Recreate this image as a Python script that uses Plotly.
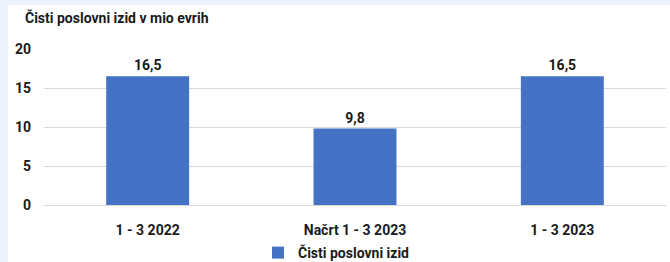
import plotly.graph_objects as go

categories = ["1 - 3 2022", "Načrt 1 - 3 2023", "1 - 3 2023"]
values = [16.5, 9.8, 16.5]
series_name = "Čisti poslovni izid"
title_text = "Čisti poslovni izid v mio evrih"
y_ticks = [0, 5, 10, 15, 20]

FONT = "Roboto"
TXT = "#1a1a1a"
BAR = "#4472C4"
BAND = "#EEF2FA"

fig = go.Figure()
fig.add_trace(go.Bar(
    x=categories, y=values, name="<b>" + series_name + "</b>",
    marker=dict(color=BAR, line=dict(width=0)),
    width=0.4,
    texttemplate="<b>%{y:.1f}</b>", textposition="outside",
    textfont=dict(family=FONT, size=14, color=TXT),
    cliponaxis=False,
    showlegend=True,
))

L, R, T, B = 44, 4, 49, 57
W, H = 670, 262
pw = W - L - R
ph = H - T - B

def px(x):
    return (x - L) / pw

def py(y):
    return (H - B - y) / ph

fig.update_layout(
    width=W, height=H,
    margin=dict(l=L, r=R, t=T, b=B, autoexpand=False),
    paper_bgcolor="white", plot_bgcolor="white",
    separators=",.",
    font=dict(family=FONT, color=TXT, size=12),
    title=dict(text="<b>" + title_text + "</b>", x=25 / W, xanchor="left", xref="container",
               y=1 - 18 / H, yanchor="middle", yref="container",
               font=dict(family=FONT, size=14, color=TXT)),
    showlegend=True,
    legend=dict(orientation="h", x=px(258), xanchor="left", y=py(253), yanchor="middle",
                font=dict(family=FONT, size=14, color=TXT),
                itemwidth=30, bgcolor="rgba(0,0,0,0)"),
    xaxis=dict(showgrid=False, showline=True, linecolor="#D9D9D9", linewidth=1,
               ticks="", tickfont=dict(family=FONT, size=14, color=TXT, weight="bold"),
               ticklabelstandoff=12),
    yaxis=dict(range=[0, 20], tickvals=y_ticks, showgrid=True, gridcolor="#D9D9D9",
               gridwidth=1, zeroline=False, showline=False, ticks="",
               tickfont=dict(family=FONT, size=14, color=TXT, weight="bold"),
               ticklabelstandoff=12),
    shapes=[
        dict(type="rect", xref="paper", yref="paper", x0=px(0), x1=px(8), y0=py(H), y1=py(0),
             fillcolor=BAND, line=dict(width=0), layer="below"),
        dict(type="rect", xref="paper", yref="paper", x0=px(0), x1=px(W), y0=py(5), y1=py(0),
             fillcolor=BAND, line=dict(width=0), layer="below"),
    ],
)

fig.write_html("out.html", config={"displayModeBar": False},
               post_script="document.body.style.margin='0';document.body.style.padding='0';")
